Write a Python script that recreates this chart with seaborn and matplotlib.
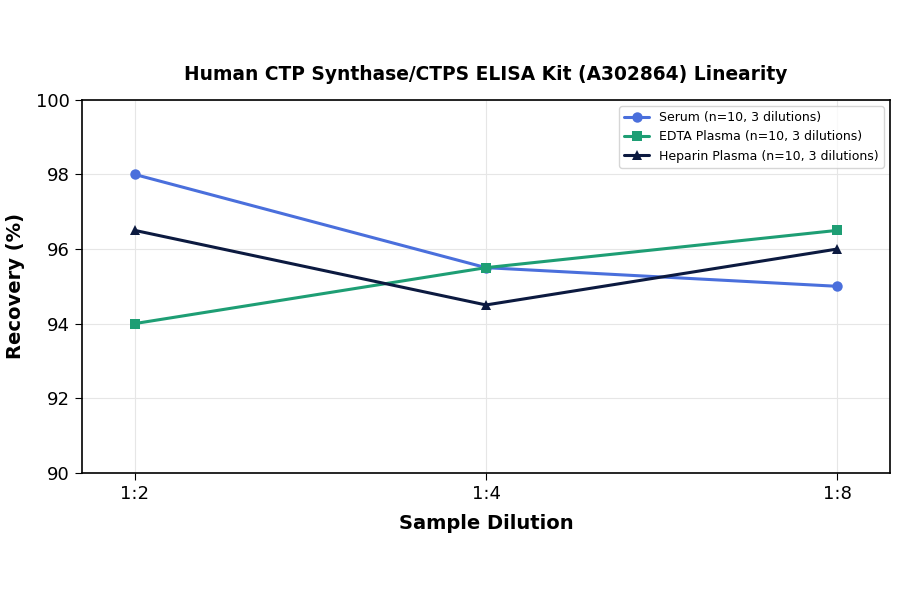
import pandas as pd
import matplotlib
matplotlib.use("Agg")
import matplotlib.pyplot as plt
import seaborn as sns

# Data
dilutions = ["1:2", "1:4", "1:8"]
serum = [98.0, 95.5, 95.0]
edta_plasma = [94.0, 95.5, 96.5]
heparin_plasma = [96.5, 94.5, 96.0]
series_names = [
    "Serum (n=10, 3 dilutions)",
    "EDTA Plasma (n=10, 3 dilutions)",
    "Heparin Plasma (n=10, 3 dilutions)",
]

frames = []
for name, vals in zip(series_names, [serum, edta_plasma, heparin_plasma]):
    frames.append(pd.DataFrame({"Dilution": dilutions, "Recovery": vals, "Sample": name}))
df = pd.concat(frames, ignore_index=True)

palette = {series_names[0]: "#4A6FDC", series_names[1]: "#1E9E74", series_names[2]: "#0C1A40"}
markers = {series_names[0]: "o", series_names[1]: "s", series_names[2]: "^"}

sns.set_style("white")
plt.rcParams.update({"text.color": "black", "axes.labelcolor": "black",
                     "xtick.color": "black", "ytick.color": "black"})
fig, ax = plt.subplots(figsize=(9, 5.94), dpi=100)
fig.subplots_adjust(left=0.091, right=0.989, top=0.832, bottom=0.204)

sns.lineplot(data=df, x="Dilution", y="Recovery", hue="Sample", style="Sample",
             markers=markers, dashes=False, palette=palette, linewidth=2.2,
             markersize=7.5, markeredgewidth=0, ax=ax, sort=False)

ax.set_ylim(90, 100)
ax.set_yticks([90, 92, 94, 96, 98, 100])
ax.set_xlim(-0.15, 2.15)
ax.grid(True, color="#e6e6e6", linewidth=0.8)
for s in ax.spines.values():
    s.set_color("black")
    s.set_linewidth(1.2)
ax.tick_params(axis="both", labelsize=13, length=5, left=True, bottom=True)

ax.set_title("Human CTP Synthase/CTPS ELISA Kit (A302864) Linearity",
             fontsize=13.4, fontweight="bold", pad=14)
ax.set_xlabel("Sample Dilution", fontsize=14, fontweight="bold", labelpad=8)
ax.set_ylabel("Recovery (%)", fontsize=14, fontweight="bold", labelpad=8)
ax.legend(title=None, loc="upper right", fontsize=9, frameon=True)

fig.savefig("out.png", dpi=100)
